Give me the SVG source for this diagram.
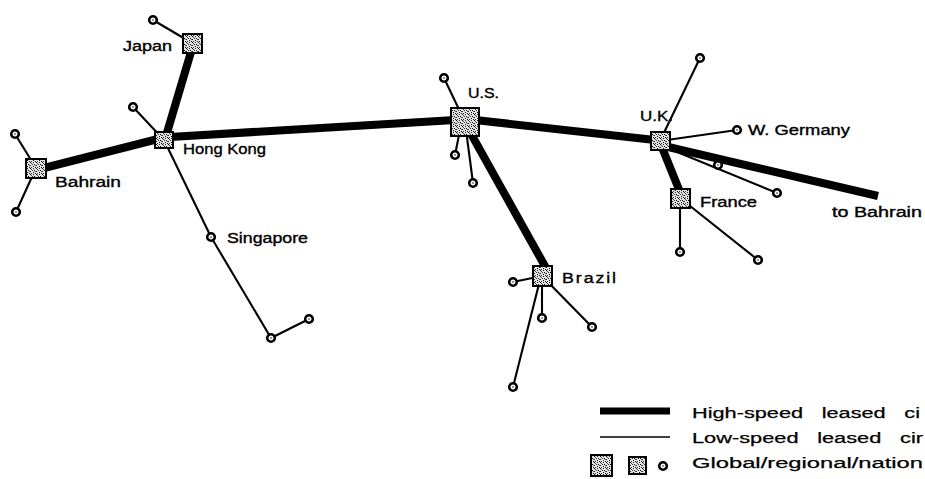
<svg xmlns="http://www.w3.org/2000/svg" width="925" height="479" viewBox="0 0 925 479">
  <defs>
    <!-- fine halftone used for the hub squares -->
    <pattern id="stipple" width="6" height="6" patternUnits="userSpaceOnUse">
      <rect width="6" height="6" fill="#e4e4e4"/>
      <rect x="0" y="0" width="1" height="1" fill="#000"/>
      <rect x="3" y="0" width="1" height="1" fill="#222"/>
      <rect x="1" y="1" width="1" height="1" fill="#444"/>
      <rect x="4" y="2" width="1" height="1" fill="#000"/>
      <rect x="2" y="2" width="1" height="1" fill="#333"/>
      <rect x="0" y="3" width="1" height="1" fill="#222"/>
      <rect x="5" y="3" width="1" height="1" fill="#555"/>
      <rect x="3" y="4" width="1" height="1" fill="#000"/>
      <rect x="1" y="5" width="1" height="1" fill="#333"/>
      <rect x="5" y="5" width="1" height="1" fill="#111"/>
    </pattern>
    <style>
      .hi { stroke: #000; stroke-width: 8; fill: none; stroke-linecap: butt; }
      .lo { stroke: #000; stroke-width: 2.1; fill: none; }
      .hub { fill: url(#stipple); stroke: #000; stroke-width: 2; }
      .end { fill: #fff; stroke: #000; stroke-width: 2.6; }
      .dot { fill: #777; }
      text { font-family: "Liberation Sans", Arial, sans-serif; font-size: 14px; fill: #000; stroke: #000; stroke-width: 0.35; }
      .leg { font-size: 15.5px; word-spacing: 9px; stroke-width: 0.25; }
    </style>
    <g id="endpoint">
      <circle r="3.8" class="end"/>
      <circle r="1" class="dot"/>
    </g>
  </defs>
  <rect width="925" height="479" fill="#fff"/>

  <!-- circuits -->
  <g id="connectors">
    <!-- high-speed trunks -->
    <line class="hi" x1="44" y1="168" x2="158" y2="139" stroke-width="9"/>
    <line class="hi" x1="166" y1="136" x2="191" y2="52"/>
    <line class="hi" x1="170" y1="137" x2="455" y2="120" stroke-width="7"/>
    <line class="hi" x1="475" y1="120" x2="655" y2="140" stroke-width="7"/>
    <line class="hi" x1="470" y1="132" x2="546" y2="268" stroke-width="10"/>
    <line class="hi" x1="664" y1="146" x2="878" y2="196" stroke-width="8"/>
    <line class="hi" x1="661" y1="145" x2="680" y2="192" stroke-width="8"/>
    <!-- low-speed circuits -->
    <line class="lo" x1="192" y1="43" x2="153" y2="20"/>
    <line class="lo" x1="36" y1="168" x2="15" y2="134"/>
    <line class="lo" x1="36" y1="168" x2="16" y2="212"/>
    <line class="lo" x1="164" y1="140" x2="133" y2="107"/>
    <line class="lo" x1="164" y1="140" x2="211" y2="237"/>
    <line class="lo" x1="211" y1="237" x2="271" y2="338"/>
    <line class="lo" x1="271" y1="338" x2="309" y2="319"/>
    <line class="lo" x1="465" y1="122" x2="444" y2="78"/>
    <line class="lo" x1="460" y1="130" x2="455" y2="155"/>
    <line class="lo" x1="466" y1="130" x2="473" y2="183"/>
    <line class="lo" x1="542" y1="276" x2="513" y2="282"/>
    <line class="lo" x1="542" y1="276" x2="542" y2="318"/>
    <line class="lo" x1="542" y1="276" x2="592" y2="327"/>
    <line class="lo" x1="540" y1="280" x2="513" y2="387"/>
    <line class="lo" x1="660" y1="141" x2="700" y2="58"/>
    <line class="lo" x1="660" y1="141" x2="737" y2="130"/>
    <line class="lo" x1="660" y1="145" x2="777" y2="193"/>
    <line class="lo" x1="680" y1="198" x2="680" y2="252"/>
    <line class="lo" x1="680" y1="198" x2="758" y2="260"/>
  </g>

  <!-- hubs -->
  <g id="japan">
    <rect class="hub" x="183" y="34" width="19" height="19"/>
    <text x="123" y="51" textLength="49" lengthAdjust="spacingAndGlyphs">Japan</text>
  </g>
  <g id="hong-kong">
    <rect class="hub" x="155" y="132" width="18" height="16"/>
    <text x="183" y="154" textLength="83" lengthAdjust="spacingAndGlyphs">Hong Kong</text>
  </g>
  <g id="bahrain">
    <rect class="hub" x="26" y="159" width="20" height="19"/>
    <text x="55" y="187" textLength="66" lengthAdjust="spacingAndGlyphs">Bahrain</text>
  </g>
  <g id="us">
    <rect class="hub" x="451" y="108" width="28" height="28"/>
    <text x="468" y="98" textLength="31" lengthAdjust="spacingAndGlyphs">U.S.</text>
  </g>
  <g id="brazil">
    <rect class="hub" x="533" y="266" width="19" height="20"/>
    <text x="562" y="283" letter-spacing="1.5" textLength="56" lengthAdjust="spacingAndGlyphs">Brazil</text>
  </g>
  <g id="uk">
    <rect class="hub" x="651" y="132" width="19" height="18"/>
    <text x="640" y="121" textLength="33" lengthAdjust="spacingAndGlyphs">U.K.</text>
  </g>
  <g id="france">
    <rect class="hub" x="671" y="189" width="19" height="19"/>
    <text x="700" y="207" textLength="57" lengthAdjust="spacingAndGlyphs">France</text>
  </g>
  <g id="singapore">
    <use href="#endpoint" x="211" y="237"/>
    <text x="227" y="243" textLength="81" lengthAdjust="spacingAndGlyphs">Singapore</text>
  </g>
  <g id="w-germany">
    <use href="#endpoint" x="737" y="130"/>
    <text x="748" y="135" textLength="102" lengthAdjust="spacingAndGlyphs">W. Germany</text>
  </g>
  <g id="to-bahrain">
    <text x="832" y="217" textLength="90" lengthAdjust="spacingAndGlyphs">to Bahrain</text>
  </g>

  <!-- national endpoints -->
  <g id="endpoints">
    <use href="#endpoint" x="153" y="20"/>
    <use href="#endpoint" x="15" y="134"/>
    <use href="#endpoint" x="16" y="212"/>
    <use href="#endpoint" x="133" y="107"/>
    <use href="#endpoint" x="271" y="338"/>
    <use href="#endpoint" x="309" y="319"/>
    <use href="#endpoint" x="444" y="78"/>
    <use href="#endpoint" x="455" y="155"/>
    <use href="#endpoint" x="473" y="183"/>
    <use href="#endpoint" x="513" y="282"/>
    <use href="#endpoint" x="542" y="318"/>
    <use href="#endpoint" x="592" y="327"/>
    <use href="#endpoint" x="513" y="387"/>
    <use href="#endpoint" x="700" y="58"/>
    <use href="#endpoint" x="718" y="165"/>
    <use href="#endpoint" x="777" y="193"/>
    <use href="#endpoint" x="680" y="252"/>
    <use href="#endpoint" x="758" y="260"/>
  </g>

  <!-- key -->
  <g id="legend">
    <line x1="600" y1="411" x2="670" y2="411" stroke="#000" stroke-width="7"/>
    <line x1="600" y1="437" x2="670" y2="437" stroke="#000" stroke-width="1.6"/>
    <rect class="hub" x="591" y="455" width="21" height="21"/>
    <rect class="hub" x="629" y="457" width="17" height="17"/>
    <use href="#endpoint" x="663" y="466"/>
    <text class="leg" x="692" y="418" textLength="228" lengthAdjust="spacingAndGlyphs">High-speed leased ci</text>
    <text class="leg" x="692" y="443" textLength="231" lengthAdjust="spacingAndGlyphs">Low-speed leased cir</text>
    <text class="leg" x="692" y="468" textLength="231" lengthAdjust="spacingAndGlyphs">Global/regional/nation</text>
  </g>
</svg>
